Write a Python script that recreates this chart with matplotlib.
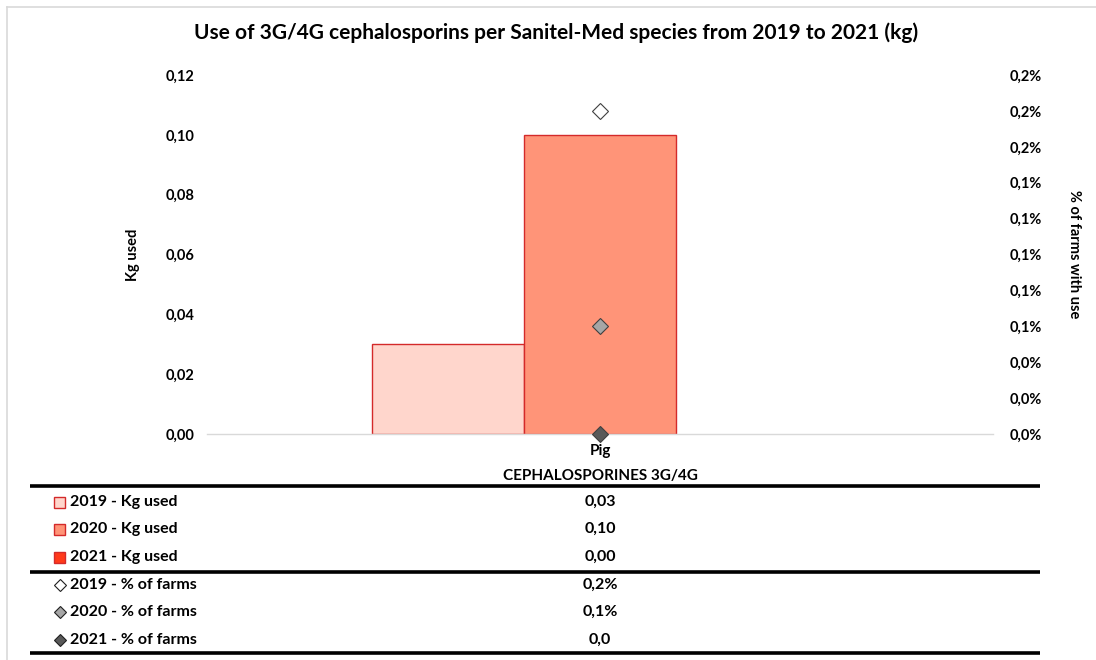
import matplotlib
matplotlib.use("Agg")
import matplotlib.pyplot as plt
from matplotlib.ticker import MultipleLocator, FuncFormatter
from matplotlib.patches import Rectangle

plt.rcParams['font.family'] = ['Lato', 'DejaVu Sans']
plt.rcParams['font.weight'] = 'bold'
plt.rcParams['axes.labelweight'] = 'bold'

# ---- data ----
category = "Pig"
group_label = "CEPHALOSPORINES 3G/4G"
years = ["2019", "2020", "2021"]
kg_used = [0.03, 0.10, 0.00]
pct_farms = [0.18, 0.06, 0.00]          # percent
pct_labels = ["0,2%", "0,1%", "0,0"]
kg_labels = ["0,03", "0,10", "0,00"]

bar_colors = ["#FFD6CC", "#FF9478", "#FF3A1A"]
bar_edge = "#D42A2A"
marker_colors = ["#FFFFFF", "#A6A6A6", "#595959"]
marker_edge = "#404040"

W, H = 1096, 660
fig = plt.figure(figsize=(W / 100, H / 100), dpi=100)

def fx(px):
    return px / W

def fy(py):
    return 1 - py / H

ax_left, ax_right, ax_top, ax_bot = 207, 993, 75, 434
ax = fig.add_axes([fx(ax_left), fy(ax_bot), fx(ax_right - ax_left), (ax_bot - ax_top) / H])
ax2 = ax.twinx()

bw = 152 / (ax_right - ax_left)
offsets = [-bw, 0, bw]
for i, y in enumerate(years):
    ax.bar(0 + offsets[i], kg_used[i], width=bw, color=bar_colors[i],
           edgecolor=bar_edge if kg_used[i] > 0 else 'none', linewidth=1.0, zorder=2)

ax.set_xlim(-0.5, 0.5)
ax.set_ylim(0, 0.12)
ax.yaxis.set_major_locator(MultipleLocator(0.02))
ax.yaxis.set_major_formatter(FuncFormatter(lambda v, p: f"{v:.2f}".replace('.', ',')))
ax.set_xticks([0])
ax.set_xticklabels([category])

for i in range(3):
    ax2.plot([0], [pct_farms[i]], marker='D', ms=8, mfc=marker_colors[i],
             mec=marker_edge, mew=0.8, ls='none', zorder=5, clip_on=False)
ax2.set_ylim(0, 0.2)
ax2.yaxis.set_major_locator(MultipleLocator(0.02))
ax2.yaxis.set_major_formatter(FuncFormatter(lambda v, p: f"{v:.1f}%".replace('.', ',')))

for a in (ax, ax2):
    for s in a.spines.values():
        s.set_visible(False)
    a.tick_params(length=0, labelsize=10.5)
ax.spines['bottom'].set_visible(True)
ax.spines['bottom'].set_color('#D9D9D9')
ax.spines['bottom'].set_linewidth(1.0)
ax.tick_params(axis='y', pad=9)
ax2.tick_params(axis='y', pad=12)
ax.tick_params(axis='x', pad=7, labelsize=11)
ax.set_zorder(1)
ax2.set_zorder(2)
ax2.patch.set_visible(False)

ax.set_ylabel("Kg used", fontsize=10.5, labelpad=0)
ax.yaxis.set_label_coords((140 - ax_left) / (ax_right - ax_left), 0.5)
ax2.set_ylabel("% of farms with use", fontsize=10.5, rotation=270, labelpad=0)
ax2.yaxis.set_label_coords((1081 - ax_left) / (ax_right - ax_left), 0.5)

fig.text(fx(556), fy(33), "Use of 3G/4G cephalosporins per Sanitel-Med species from 2019 to 2021 (kg)",
         ha='center', va='center', fontsize=15)
fig.text(fx(600), fy(476), group_label, ha='center', va='center', fontsize=11)

# overlay for table
ov = fig.add_axes([0, 0, 1, 1], zorder=-1)
ov.set_xlim(0, W)
ov.set_ylim(H, 0)
ov.axis('off')
ov.plot([7, 7], [7, H], color='#D9D9D9', lw=1.2)
ov.plot([7, W], [7, 7], color='#D9D9D9', lw=1.2)

for yl in (486, 572, 653):
    ov.plot([30, 1040], [yl, yl], color='black', lw=2.6, solid_capstyle='butt')

row_y_kg = [502, 529, 557]
row_y_pct = [585, 612, 640]
fs = 11.5
for i, y in enumerate(years):
    yy = row_y_kg[i]
    ov.add_patch(Rectangle((54, yy - 5.5), 11, 11, facecolor=bar_colors[i], edgecolor=bar_edge, lw=1.0))
    ov.text(70, yy, f"{y} - Kg used", ha='left', va='center', fontsize=fs)
    ov.text(600, yy, kg_labels[i], ha='center', va='center', fontsize=fs)
for i, y in enumerate(years):
    yy = row_y_pct[i]
    ov.plot([59.5], [yy], marker='D', ms=6, mfc=marker_colors[i], mec='#202020', mew=0.8)
    ov.text(70, yy, f"{y} - % of farms", ha='left', va='center', fontsize=fs)
    ov.text(600, yy, pct_labels[i], ha='center', va='center', fontsize=fs)

fig.savefig("out.png", dpi=100)
